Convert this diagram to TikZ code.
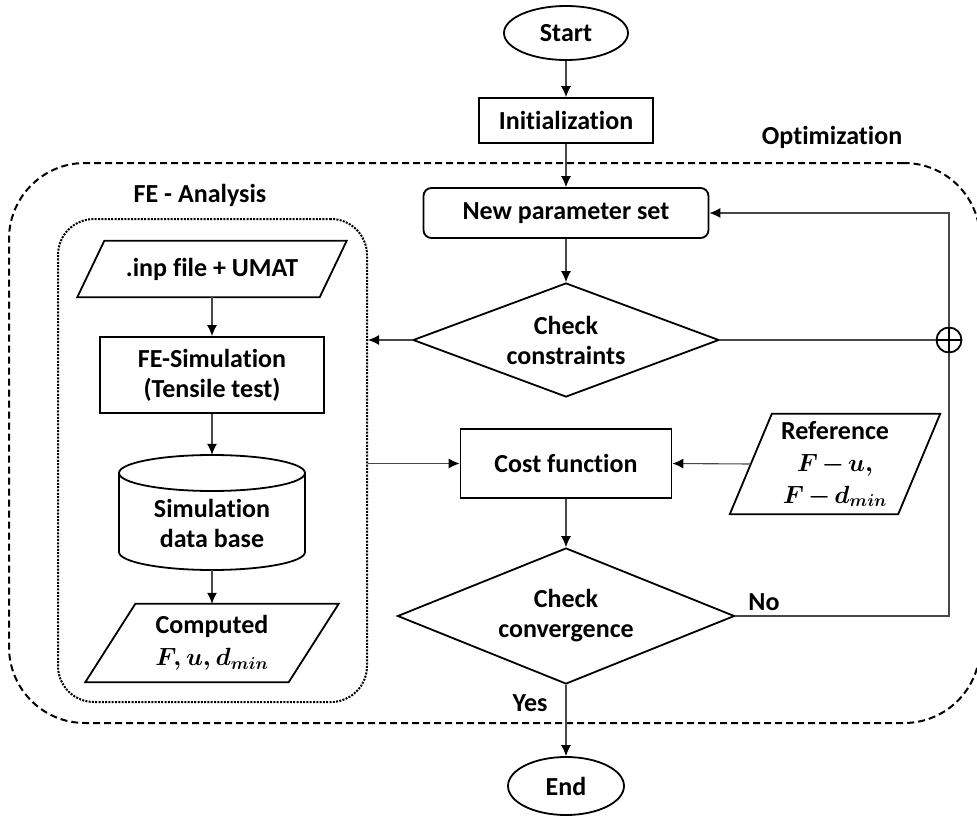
\documentclass[tikz,border=0pt]{standalone}
\usepackage{fontspec}
\setmainfont{Carlito}[Ligatures=NoCommon]
\usepackage{amsmath}
\usetikzlibrary{shapes.geometric,arrows.meta,calc}
\newcommand{\bmth}[1]{{\boldmath$\medmuskip=2.5mu #1$}}
\begin{document}
\begin{tikzpicture}[x=1pt,y=-1pt,
  every node/.style={font=\bfseries\fontsize{26}{30}\selectfont, align=center, inner sep=0pt},
  shp/.style={draw=black, line width=1.8pt},
  wire/.style={draw=black!72, line width=1.1pt},
  conn/.style={wire, -{Latex[length=11pt,width=10pt,color=black]}},
  mathtxt/.style={font=\bfseries\fontsize{26}{32}\selectfont}]
\useasboundingbox (0,0) rectangle (977,816);

% containers
\node[draw=black, line width=2pt, dash pattern=on 7pt off 4pt, rounded corners=76,
      minimum width=971, minimum height=560] (opt) at (494.5,443) {};
\node[draw=black, line width=2pt, dash pattern=on 2pt off 1.3pt, rounded corners=36,
      minimum width=309, minimum height=483] (fe) at (212.5,460.5) {};
\node (optl) at (832,137) {Optimization};
\node (fel) at (200,195) {FE - Analysis};

% main column
\node[shp, ellipse, minimum width=124, minimum height=54] (start) at (566,33) {Start};
\node[shp, minimum width=174, minimum height=45] (init) at (566,120.5) {Initialization};
\node[shp, rounded corners=8, minimum width=285, minimum height=50] (np) at (566,213) {New parameter set};
\node[shp, diamond, aspect=2.7, minimum width=306, minimum height=114] (cc) at (566,340) {Check\\constraints};
\node[shp, minimum width=211, minimum height=69] (cost) at (566,463.5) {Cost function};
\node[shp, diamond, aspect=2.48, minimum width=337, minimum height=136] (conv) at (566,616) {Check\\convergence};
\node[shp, ellipse, minimum width=116, minimum height=58] (end) at (566,786) {End};

% reference data
\node[mathtxt, minimum width=210, minimum height=100] (ref) at (835,464)
  {Reference\\\bmth{F-u,}\\\bmth{F-d_{min}}};
\draw[shp] ($(ref.north west)+(42,0)$) -- (ref.north east) -- ($(ref.south east)+(-42,0)$) -- (ref.south west) -- cycle;
\coordinate (refL) at ($(ref.west)+(21,0)$);

% FE analysis column
\node[minimum width=269, minimum height=56] (inp) at (212,269) {.inp file + UMAT};
\draw[shp] ($(inp.north west)+(27,0)$) -- (inp.north east) -- ($(inp.south east)+(-27,0)$) -- (inp.south west) -- cycle;
\node[shp, minimum width=224, minimum height=76] (fesim) at (212,375) {FE-Simulation\\(Tensile test)};
\node[minimum width=186, minimum height=115] (db) at (212,512.5) {};
\draw[shp] (119,473) -- (119,552)
   .. controls (119,561.94) and (160.64,570) .. (212,570)
   .. controls (263.36,570) and (305,561.94) .. (305,552) -- (305,473);
\draw[shp] (119,473) .. controls (119,463.06) and (160.64,455) .. (212,455)
   .. controls (263.36,455) and (305,463.06) .. (305,473)
   .. controls (305,482.94) and (263.36,491) .. (212,491)
   .. controls (160.64,491) and (119,482.94) .. (119,473) -- cycle;
\node (dbt) at (212,523) {Simulation\\data base};
\node[mathtxt, minimum width=253, minimum height=78] (comp) at (212,643) {Computed\\\bmth{F, u, d_{min}}};
\draw[shp] ($(comp.north west)+(50,0)$) -- (comp.north east) -- ($(comp.south east)+(-50,0)$) -- (comp.south west) -- cycle;

% summing junction
\node[draw=black, circle, line width=1.8pt, minimum size=25] (op) at (949,340) {};
\draw[line width=1.8pt] (op.north) -- (op.south) (op.west) -- (op.east);

% labels
\node (yes) at (530,703) {Yes};
\node (no) at (764,602) {No};

% connectors
\draw[conn] (start) -- (init);
\draw[conn] (init) -- (np);
\draw[conn] (np) -- (cc);
\draw[conn] (cc.west) -- (cc.west -| fe.east);
\draw[wire] (cc.east) -- (op.west);
\draw[conn] (cost.west -| fe.east) -- (cost.west);
\draw[conn] (refL) -- (cost.east);
\draw[conn] (cost) -- (conv);
\draw[conn] (conv) -- (end);
\draw[wire] (conv.east) -- (conv.east -| op.south) -- (op.south);
\draw[conn] (op.north) |- (np.east);
\draw[conn] (inp) -- (fesim);
\draw[conn] (fesim) -- (db);
\draw[conn] (db) -- (comp);
\end{tikzpicture}
\end{document}
